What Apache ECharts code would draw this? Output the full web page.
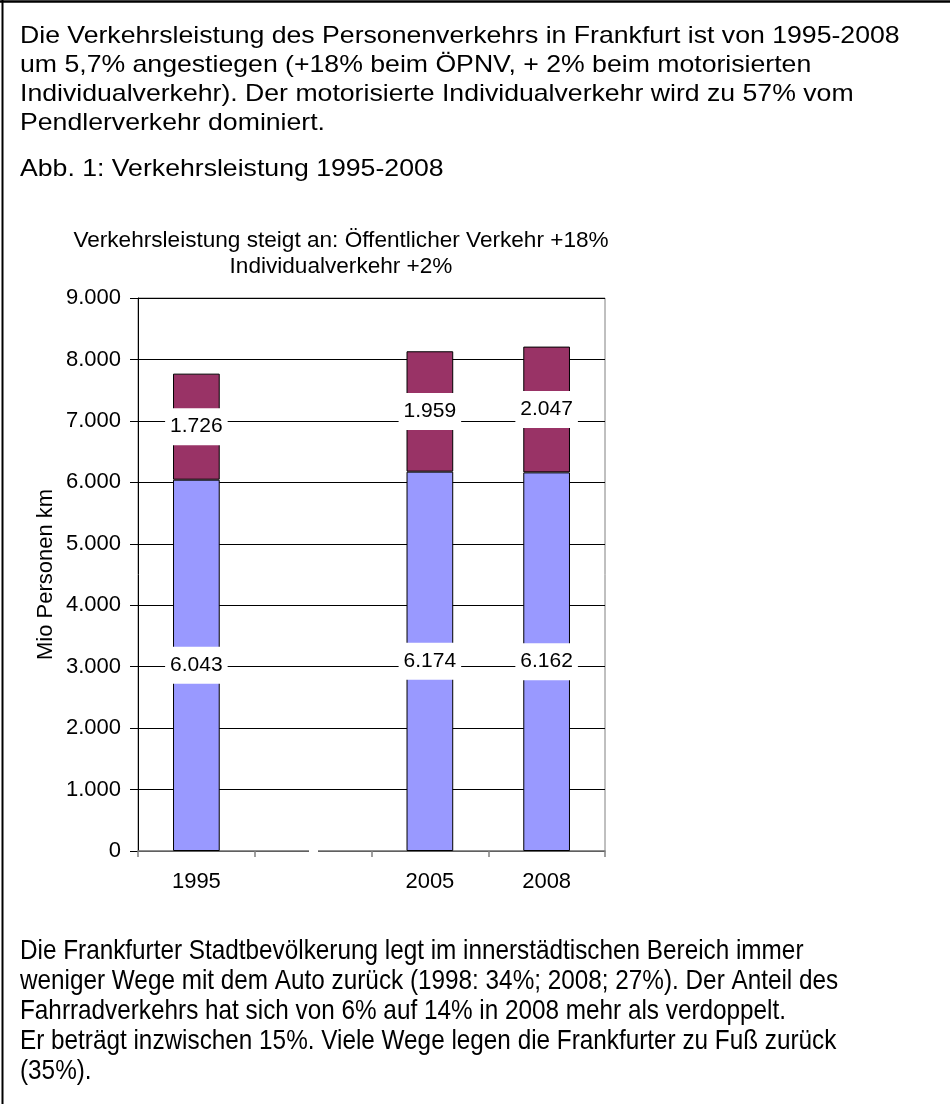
<!DOCTYPE html>
<html><head><meta charset="utf-8">
<script src="https://cdn.jsdelivr.net/npm/echarts@6/dist/echarts.min.js"></script>
<style>html,body{margin:0;padding:0;background:#fff}#c{width:950px;height:1104px}</style>
</head><body><div id="c"></div>
<script>
const categories = ['1995', '', '2005', '2008'];
const oepnv = [6043, null, 6174, 6162];
const miv = [1726, null, 1959, 2047];
const titleLines = ['Verkehrsleistung steigt an: Öffentlicher Verkehr +18%', 'Individualverkehr +2%'];
const yAxisName = 'Mio Personen km';
const topText = [
  'Die Verkehrsleistung des Personenverkehrs in Frankfurt ist von 1995-2008',
  'um 5,7% angestiegen (+18% beim ÖPNV, + 2% beim motorisierten',
  'Individualverkehr). Der motorisierte Individualverkehr wird zu 57% vom',
  'Pendlerverkehr dominiert.'
];
const caption = 'Abb. 1: Verkehrsleistung 1995-2008';
const bottomText = [
  'Die Frankfurter Stadtbevölkerung legt im innerstädtischen Bereich immer',
  'weniger Wege mit dem Auto zurück (1998: 34%; 2008; 27%). Der Anteil des',
  'Fahrradverkehrs hat sich von 6% auf 14% in 2008 mehr als verdoppelt.',
  'Er beträgt inzwischen 15%. Viele Wege legen die Frankfurter zu Fuß zurück',
  '(35%).'
];

const FONT = '"Liberation Sans", Arial, Helvetica, sans-serif';
const fmt = v => String(v).replace(/\B(?=(\d{3})+(?!\d))/g, '.');

const chart = echarts.init(document.getElementById('c'), null, {renderer: 'canvas'});

const graphics = [];
// document border
graphics.push({type: 'line', shape: {x1: 0, y1: 1.5, x2: 950, y2: 1.5}, style: {stroke: '#000', lineWidth: 2.5}, z: 10});
graphics.push({type: 'line', shape: {x1: 2.5, y1: 0, x2: 2.5, y2: 1104}, style: {stroke: '#000', lineWidth: 2}, z: 10});
const topY = [36.5, 65.5, 94.5, 123.5];
topText.forEach((t, i) => {
  graphics.push({type: 'text', x: 20, y: topY[i], scaleX: 1.11, style: {text: t, font: '24px ' + FONT, fill: '#000', textVerticalAlign: 'middle'}});
});
graphics.push({type: 'text', x: 20, y: 169, scaleX: 1.11, style: {text: caption, font: '24px ' + FONT, fill: '#000', textVerticalAlign: 'middle'}});
bottomText.forEach((t, i) => {
  graphics.push({type: 'text', x: 20, y: 951 + i * 30, scaleX: 0.868, style: {text: t, font: '28px ' + FONT, fill: '#000', textVerticalAlign: 'middle'}});
});
// small break in the category axis line as in the original
graphics.push({type: 'rect', shape: {x: 309, y: 848, width: 9, height: 5}, style: {fill: '#fff'}, z: 20});

const labelCommon = {
  show: true, position: 'inside', color: '#000', fontSize: 21, fontFamily: FONT,
  backgroundColor: '#fff', padding: [8, 5, 8, 5],
  formatter: p => fmt(p.value)
};

chart.setOption({
  animation: false,
  backgroundColor: '#fff',
  textStyle: {fontFamily: FONT},
  title: {
    text: titleLines.join('\n'), left: 336, top: 223, textAlign: 'center',
    textStyle: {fontSize: 22.6, fontWeight: 'normal', color: '#000', lineHeight: 26, fontFamily: FONT}
  },
  grid: {left: 138, right: 345, top: 298, bottom: 253, show: true, borderColor: '#808080', borderWidth: 1, containLabel: false},
  xAxis: {
    type: 'category', data: categories,
    axisLine: {lineStyle: {color: '#808080', width: 1.5}},
    axisTick: {show: true, length: 6, lineStyle: {color: '#808080', width: 1.5}},
    axisLabel: {color: '#000', fontSize: 22, fontFamily: FONT, margin: 20},
    splitLine: {show: false}
  },
  yAxis: {
    type: 'value', min: 0, max: 9000, interval: 1000,
    name: yAxisName, nameLocation: 'middle', nameGap: 81, nameRotate: 90,
    nameTextStyle: {color: '#000', fontSize: 22, fontFamily: FONT},
    axisLine: {show: true, lineStyle: {color: '#000', width: 1}},
    axisTick: {show: true, length: 8, lineStyle: {color: '#000'}},
    axisLabel: {color: '#000', fontSize: 22, fontFamily: FONT, margin: 17, formatter: v => fmt(v)},
    splitLine: {show: true, lineStyle: {color: '#000', width: 1}}
  },
  series: [
    {name: 'ÖPNV', type: 'bar', stack: 'a', data: oepnv, barWidth: '40%',
     itemStyle: {color: '#9999FF', borderColor: '#000', borderWidth: 1}, label: labelCommon, z: 3},
    {name: 'MIV', type: 'bar', stack: 'a', data: miv, barWidth: '40%',
     itemStyle: {color: '#993366', borderColor: '#000', borderWidth: 1}, label: labelCommon, z: 3}
  ],
  graphic: graphics
});
</script></body></html>
